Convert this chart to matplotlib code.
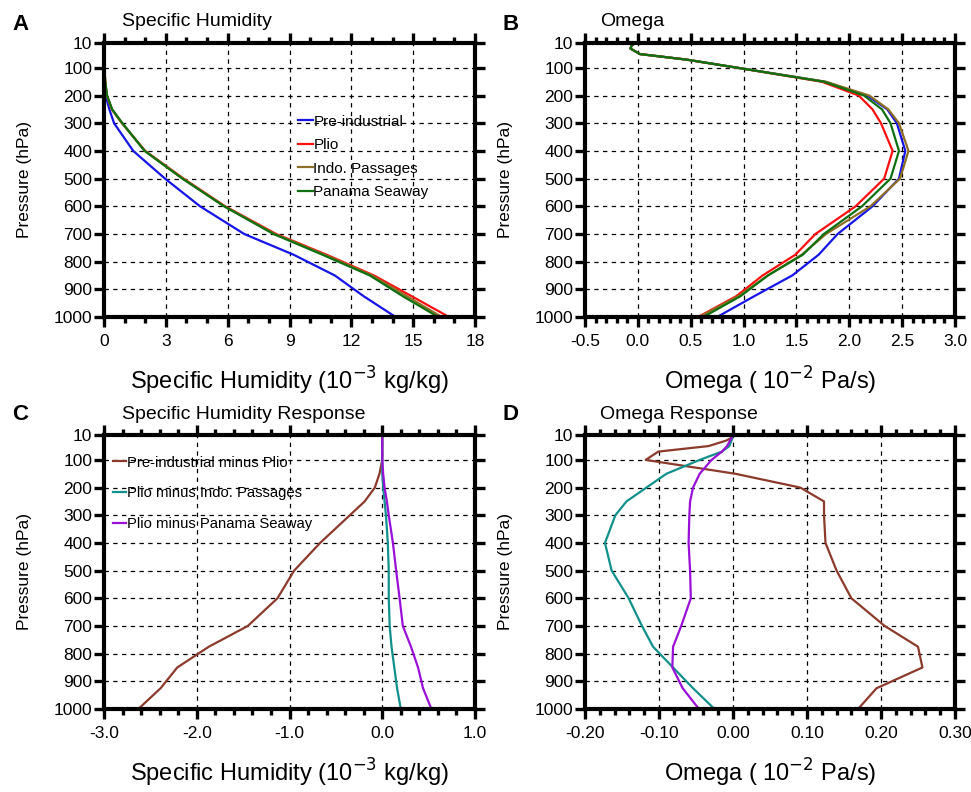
import matplotlib
matplotlib.use("Agg")
import matplotlib.pyplot as plt
from matplotlib.ticker import MultipleLocator, FixedLocator
import numpy as np

plt.rcParams['font.family'] = ['Liberation Sans', 'DejaVu Sans']

# ---------------- data ----------------
pressure = [10, 20, 30, 50, 70, 100, 150, 200, 250, 300, 400, 500, 600, 700, 775, 850, 925, 1000]
p_ticks = [10, 100, 200, 300, 400, 500, 600, 700, 800, 900, 1000]

# Panel A: specific humidity (1e-3 kg/kg)
q_pre   = [0.0, 0.0, 0.0, 0.0, 0.0, 0.01, 0.03, 0.08, 0.26, 0.49, 1.42, 2.96, 4.66, 6.8, 9.2, 11.2, 12.6, 14.15]
q_plio  = [0.0, 0.0, 0.0, 0.0, 0.01, 0.02, 0.06, 0.14, 0.38, 0.88, 2.0, 3.86, 5.88, 8.35, 10.8, 13.1, 14.93, 16.74]
q_indo  = [0.0, 0.0, 0.0, 0.0, 0.01, 0.02, 0.06, 0.14, 0.38, 0.87, 1.98, 3.83, 5.85, 8.28, 10.7, 13.0, 14.7, 16.38]
q_pan   = [0.0, 0.0, 0.0, 0.0, 0.01, 0.02, 0.06, 0.15, 0.40, 0.90, 1.97, 3.80, 5.82, 8.22, 10.6, 12.9, 14.5, 16.22]

# Panel B: omega (1e-2 Pa/s)
w_pre   = [-0.03, -0.06, -0.07, 0.02, 0.46, 0.95, 1.77, 2.17, 2.36, 2.45, 2.53, 2.47, 2.22, 1.89, 1.71, 1.46, 1.10, 0.75]
w_plio  = [-0.03, -0.06, -0.07, 0.02, 0.46, 0.95, 1.74, 2.09, 2.22, 2.30, 2.41, 2.33, 2.06, 1.68, 1.49, 1.18, 0.93, 0.57]
w_indo  = [-0.03, -0.06, -0.07, 0.02, 0.46, 0.95, 1.78, 2.19, 2.37, 2.47, 2.56, 2.48, 2.20, 1.78, 1.55, 1.23, 0.95, 0.58]
w_pan   = [-0.03, -0.06, -0.07, 0.02, 0.46, 0.95, 1.76, 2.14, 2.31, 2.39, 2.47, 2.39, 2.12, 1.76, 1.56, 1.23, 0.97, 0.62]

# Panel C: specific humidity response (1e-3 kg/kg)
dq_pre_plio  = [0.0, 0.0, 0.0, 0.0, 0.0, 0.0, -0.03, -0.08, -0.19, -0.35, -0.67, -0.95, -1.13, -1.45, -1.87, -2.21, -2.39, -2.63]
dq_plio_indo = [0.0, 0.0, 0.0, 0.0, 0.0, 0.0, 0.0, 0.01, 0.025, 0.04, 0.06, 0.07, 0.07, 0.08, 0.10, 0.13, 0.16, 0.20]
dq_plio_pan  = [0.0, 0.0, 0.0, 0.0, 0.0, 0.0, 0.01, 0.025, 0.05, 0.07, 0.115, 0.15, 0.187, 0.222, 0.31, 0.386, 0.44, 0.53]

# Panel D: omega response (1e-2 Pa/s)
dw_pre_plio  = [0.0, -0.002, -0.009, -0.033, -0.101, -0.118, 0.003, 0.091, 0.123, 0.123, 0.125, 0.140, 0.160, 0.205, 0.250, 0.256, 0.194, 0.169]
dw_plio_indo = [0.0, -0.001, -0.002, -0.005, -0.015, -0.045, -0.090, -0.117, -0.144, -0.159, -0.173, -0.164, -0.141, -0.123, -0.108, -0.081, -0.054, -0.025]
dw_plio_pan  = [0.0, -0.002, -0.004, -0.008, -0.015, -0.029, -0.045, -0.054, -0.058, -0.059, -0.060, -0.058, -0.057, -0.070, -0.081, -0.082, -0.068, -0.046]

# ---------------- figure ----------------
W, H = 971, 792
fig = plt.figure(figsize=(W / 100, H / 100), dpi=100)


def axes_px(left, right, top, bottom):
    return fig.add_axes([left / W, 1 - bottom / H, (right - left) / W, (bottom - top) / H])


def style(ax, xlim, xmajor, xminor, xticklabels_fmt, grid_step):
    ax.set_ylim(1000, 10)
    ax.set_xlim(*xlim)
    ax.yaxis.set_major_locator(FixedLocator(p_ticks))
    ax.set_yticklabels([str(p) for p in p_ticks])
    ax.xaxis.set_major_locator(MultipleLocator(xmajor))
    ax.xaxis.set_minor_locator(MultipleLocator(xminor))
    ax.xaxis.set_major_formatter(plt.FuncFormatter(lambda v, pos: xticklabels_fmt.format(v + 0.0)))
    ax.tick_params(axis='both', which='both', direction='out', top=True, right=True,
                   width=2.4, color='black')
    ax.tick_params(axis='both', which='major', length=7)
    ax.tick_params(axis='both', which='minor', length=4)
    ax.tick_params(axis='x', which='major', labelsize=12.5, pad=5)
    ax.tick_params(axis='y', which='major', labelsize=12.5, pad=1.5)
    for s in ax.spines.values():
        s.set_linewidth(3.0)
    # grid
    xs = np.arange(xlim[0], xlim[1] + 1e-9, grid_step)
    for xv in xs[1:-1]:
        ax.axvline(xv, color='black', lw=0.9, ls=(0, (3.5, 3.5)), zorder=0)
    for yv in p_ticks[1:-1]:
        ax.axhline(yv, color='black', lw=0.9, ls=(0, (3.5, 3.5)), zorder=0)
    ax.set_ylabel('Pressure (hPa)', fontsize=12.5)
    ax.yaxis.set_label_coords(-0.195, 0.5)


# Panel A
axA = axes_px(104, 475, 43, 317)
style(axA, (0, 18), 3, 1, '{:.0f}', 3)
axA.plot(q_pre, pressure, color='#1515e8', lw=1.6, label='Pre-industrial')
axA.plot(q_plio, pressure, color='#ff1010', lw=1.6, label='Plio')
axA.plot(q_indo, pressure, color='#8f6f25', lw=1.6, label='Indo. Passages')
axA.plot(q_pan, pressure, color='#0f7010', lw=1.6, label='Panama Seaway')
axA.set_xlabel('Specific Humidity (10$^{-3}$ kg/kg)', fontsize=17)
axA.xaxis.set_label_coords(0.5, -0.175)
axA.legend(loc='upper left', bbox_to_anchor=(0.523, 0.738), frameon=False, fontsize=11,
           handlelength=0.95, handletextpad=0.05, labelspacing=0.62, borderpad=0, borderaxespad=0)
axA.text(0.048, 1.062, 'Specific Humidity', transform=axA.transAxes, fontsize=14, va='baseline')

# Panel B
axB = axes_px(585, 955, 43, 317)
style(axB, (-0.5, 3.0), 0.5, 0.1, '{:.1f}', 0.5)
axB.plot(w_pre, pressure, color='#1515e8', lw=1.6)
axB.plot(w_plio, pressure, color='#ff1010', lw=1.6)
axB.plot(w_indo, pressure, color='#8f6f25', lw=1.6)
axB.plot(w_pan, pressure, color='#0f7010', lw=1.6)
axB.set_xlabel('Omega ( 10$^{-2}$ Pa/s)', fontsize=17)
axB.xaxis.set_label_coords(0.5, -0.175)
axB.text(0.04, 1.062, 'Omega', transform=axB.transAxes, fontsize=14, va='baseline')

# Panel C
axC = axes_px(104, 475, 435, 709)
style(axC, (-3.0, 1.0), 1.0, 0.2, '{:.1f}', 1.0)
axC.plot(dq_pre_plio, pressure, color='#8b3a2b', lw=1.6, label='Pre-industrial minus Plio')
axC.plot(dq_plio_indo, pressure, color='#12908c', lw=1.6, label='Plio minus Indo. Passages')
axC.plot(dq_plio_pan, pressure, color='#9a10d8', lw=1.6, label='Plio minus Panama Seaway')
axC.set_xlabel('Specific Humidity (10$^{-3}$ kg/kg)', fontsize=17)
axC.xaxis.set_label_coords(0.5, -0.175)
axC.legend(loc='upper left', bbox_to_anchor=(0.024, 0.925), frameon=False, fontsize=10.7,
           handlelength=0.9, handletextpad=0.05, labelspacing=1.12, borderpad=0, borderaxespad=0)
axC.text(0.048, 1.058, 'Specific Humidity Response', transform=axC.transAxes, fontsize=14, va='baseline')

# Panel D
axD = axes_px(585, 955, 435, 709)
style(axD, (-0.2, 0.3), 0.1, 0.02, '{:.2f}', 0.1)
axD.plot(dw_pre_plio, pressure, color='#8b3a2b', lw=1.6)
axD.plot(dw_plio_indo, pressure, color='#12908c', lw=1.6)
axD.plot(dw_plio_pan, pressure, color='#9a10d8', lw=1.6)
axD.set_xlabel('Omega ( 10$^{-2}$ Pa/s)', fontsize=17)
axD.xaxis.set_label_coords(0.5, -0.175)
axD.text(0.04, 1.058, 'Omega Response', transform=axD.transAxes, fontsize=14, va='baseline')

# Panel letters
for lab, x, y in [('A', 12, 30), ('B', 502, 30), ('C', 12, 420), ('D', 502, 420)]:
    fig.text(x / W, 1 - y / H, lab, fontsize=16, fontweight='bold', va='baseline')

fig.savefig('out.png', dpi=100)
